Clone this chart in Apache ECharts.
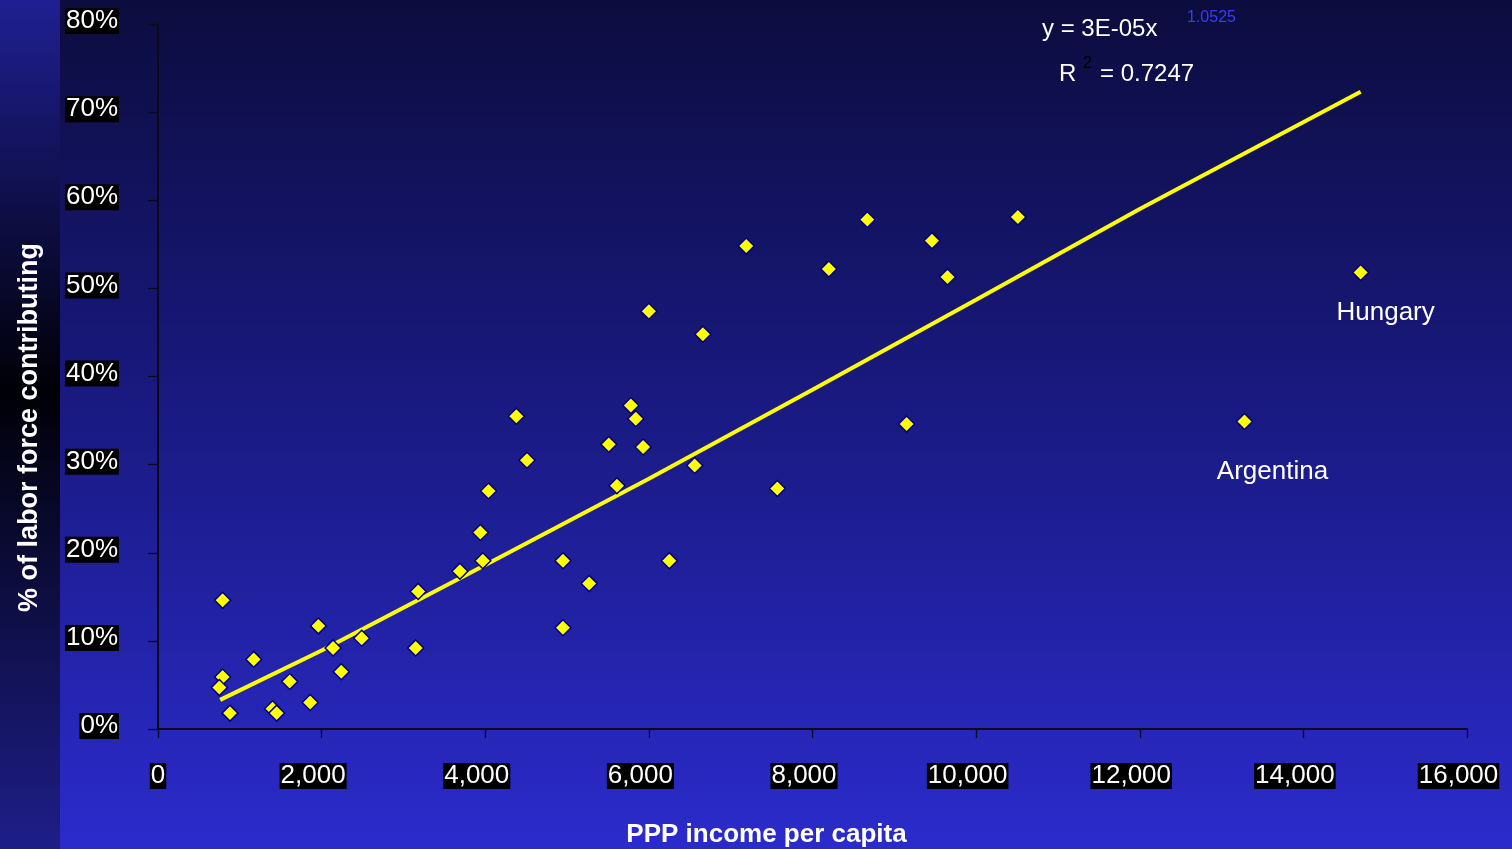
<!DOCTYPE html>
<html>
<head>
<meta charset="utf-8">
<script src="https://cdn.jsdelivr.net/npm/echarts@6/dist/echarts.min.js"></script>
<style>
html,body{margin:0;padding:0;width:1512px;height:849px;overflow:hidden;}
#c{width:1512px;height:849px;}
</style>
</head>
<body>
<div id="c"></div>
<script>
// PPP income per capita (x) and % of labor force contributing (y)
const incomeX = [790, 790, 750, 880, 1170, 1400, 1450, 1610, 1860, 1960, 2140, 2240, 2490, 3150, 3180, 3690, 3940, 3970, 4040, 4380, 4510, 4950, 4950, 5270, 5510, 5610, 5780, 5840, 5930, 6000, 6250, 6560, 6660, 7190, 7570, 8200, 8670, 9150, 9460, 9650, 10510, 13280, 14700];
const laborY = [14.6, 5.9, 4.7, 1.8, 7.9, 2.3, 1.8, 5.4, 3.0, 11.7, 9.2, 6.5, 10.3, 9.2, 15.6, 17.9, 22.3, 19.1, 27.0, 35.5, 30.5, 19.1, 11.5, 16.5, 32.3, 27.6, 36.7, 35.2, 32.0, 47.4, 19.1, 29.9, 44.8, 54.8, 27.3, 52.2, 57.8, 34.6, 55.4, 51.3, 58.1, 34.9, 51.8];
const pointNames = ['', '', '', '', '', '', '', '', '', '', '', '', '', '', '', '', '', '', '', '', '', '', '', '', '', '', '', '', '', '', '', '', '', '', '', '', '', '', '', '', '', 'Argentina', 'Hungary'];
// Power trendline as drawn
const trendX = [760, 2000, 4000, 6000, 8000, 10000, 12000, 14700];
const trendY = [3.3, 8.9, 18.6, 28.4, 38.5, 48.7, 59.0, 72.3];
// Axis ticks
const xTicks = [0, 2000, 4000, 6000, 8000, 10000, 12000, 14000, 16000];
const yTicks = [0, 10, 20, 30, 40, 50, 60, 70, 80];
const eqLine1 = 'y = 3E-05x';
const eqExp = '1.0525';
const eqR = 'R';
const eqR2 = '2';
const eqLine2 = '= 0.7247';

const FONT = '"Liberation Sans", Arial, sans-serif';
const labelOffsets = {'Argentina': [28, 24], 'Hungary': [25, 14]};

const scatterData = incomeX.map((x, i) => {
  const item = {value: [x, laborY[i]]};
  if (pointNames[i]) {
    item.name = pointNames[i];
    item.label = {
      show: true, position: 'bottom', formatter: pointNames[i],
      color: '#ffffff', fontSize: 26, fontFamily: FONT,
      offset: labelOffsets[pointNames[i]]
    };
  }
  return item;
});
const trendData = trendX.map((x, i) => [x, trendY[i]]);

const chart = echarts.init(document.getElementById('c'), null, {renderer: 'canvas'});
chart.setOption({
  animation: false,
  backgroundColor: {
    type: 'linear', x: 0, y: 0, x2: 0, y2: 1,
    colorStops: [
      {offset: 0, color: '#0c0c3e'},
      {offset: 0.5, color: '#1a1a84'},
      {offset: 1, color: '#2b2bcc'}
    ]
  },
  graphic: [
    {
      type: 'rect', left: 0, top: 0, z: -10,
      shape: {width: 60, height: 849},
      style: {
        fill: {
          type: 'linear', x: 0, y: 0, x2: 0, y2: 1,
          colorStops: [
            {offset: 0, color: '#1f1f92'},
            {offset: 0.46, color: '#000006'},
            {offset: 1, color: '#1e1e88'}
          ]
        }
      }
    },
    {type: 'text', left: 1042, top: 17, style: {text: eqLine1, fill: '#ffffff', font: '24px ' + FONT}},
    {type: 'text', left: 1187, top: 10, style: {text: eqExp, fill: '#3a3aff', font: '16px ' + FONT}},
    {type: 'text', left: 1059, top: 62, style: {text: eqR, fill: '#ffffff', font: '24px ' + FONT}},
    {type: 'text', left: 1083, top: 56, style: {text: eqR2, fill: '#000000', font: '16px ' + FONT}},
    {type: 'text', left: 1100, top: 62, style: {text: eqLine2, fill: '#ffffff', font: '24px ' + FONT}}
  ],
  grid: {left: 158, top: 24, width: 1309, height: 705, containLabel: false, outerBoundsMode: 'none'},
  xAxis: {
    type: 'value', min: 0, max: 16000, interval: 2000,
    name: 'PPP income per capita', nameLocation: 'middle', nameGap: 93,
    nameTextStyle: {color: '#ffffff', fontSize: 26, fontWeight: 'bold', fontFamily: FONT, padding: [0, 92, 0, 0]},
    splitLine: {show: false},
    axisLine: {show: true, onZero: false, lineStyle: {color: '#0a0a18', width: 2}},
    axisTick: {show: true, length: 9, lineStyle: {color: '#0a0a18', width: 1.3}},
    axisLabel: {
      margin: 31,
      formatter: function (v) {
        const s = v.toLocaleString('en-US');
        return v === 0 ? '{a|' + s + '}' : '{a|' + s + '}{s|}';
      },
      rich: {
        a: {backgroundColor: '#000000', color: '#ffffff', fontSize: 26, fontFamily: FONT, lineHeight: 32, padding: [0, 1]},
        s: {width: 17}
      }
    }
  },
  yAxis: {
    type: 'value', min: 0, max: 80, interval: 10,
    name: '% of labor force contributing', nameLocation: 'middle', nameGap: 115,
    nameTextStyle: {color: '#ffffff', fontSize: 27, fontWeight: 'bold', fontFamily: FONT, padding: [0, 102, 0, 0]},
    splitLine: {show: false},
    axisLine: {show: true, lineStyle: {color: '#0a0a18', width: 2}},
    axisTick: {show: true, length: 10, lineStyle: {color: '#0a0a18', width: 1.3}},
    axisLabel: {
      margin: 39,
      padding: [0, 0, 6, 0],
      formatter: function (v) { return '{a|' + v + '%}'; },
      rich: {
        a: {backgroundColor: '#000000', color: '#ffffff', fontSize: 26, fontFamily: FONT, lineHeight: 32, padding: [0, 1]}
      }
    }
  },
  series: [
    {
      type: 'line', data: trendData, showSymbol: false, symbol: 'none',
      lineStyle: {color: '#ffff00', width: 4}, z: 2, silent: true
    },
    {
      type: 'scatter', data: scatterData, symbol: 'diamond', symbolSize: 16,
      itemStyle: {color: '#ffff00', borderColor: '#000080', borderWidth: 1.5, opacity: 1}, z: 3
    }
  ]
});
</script>
</body>
</html>
